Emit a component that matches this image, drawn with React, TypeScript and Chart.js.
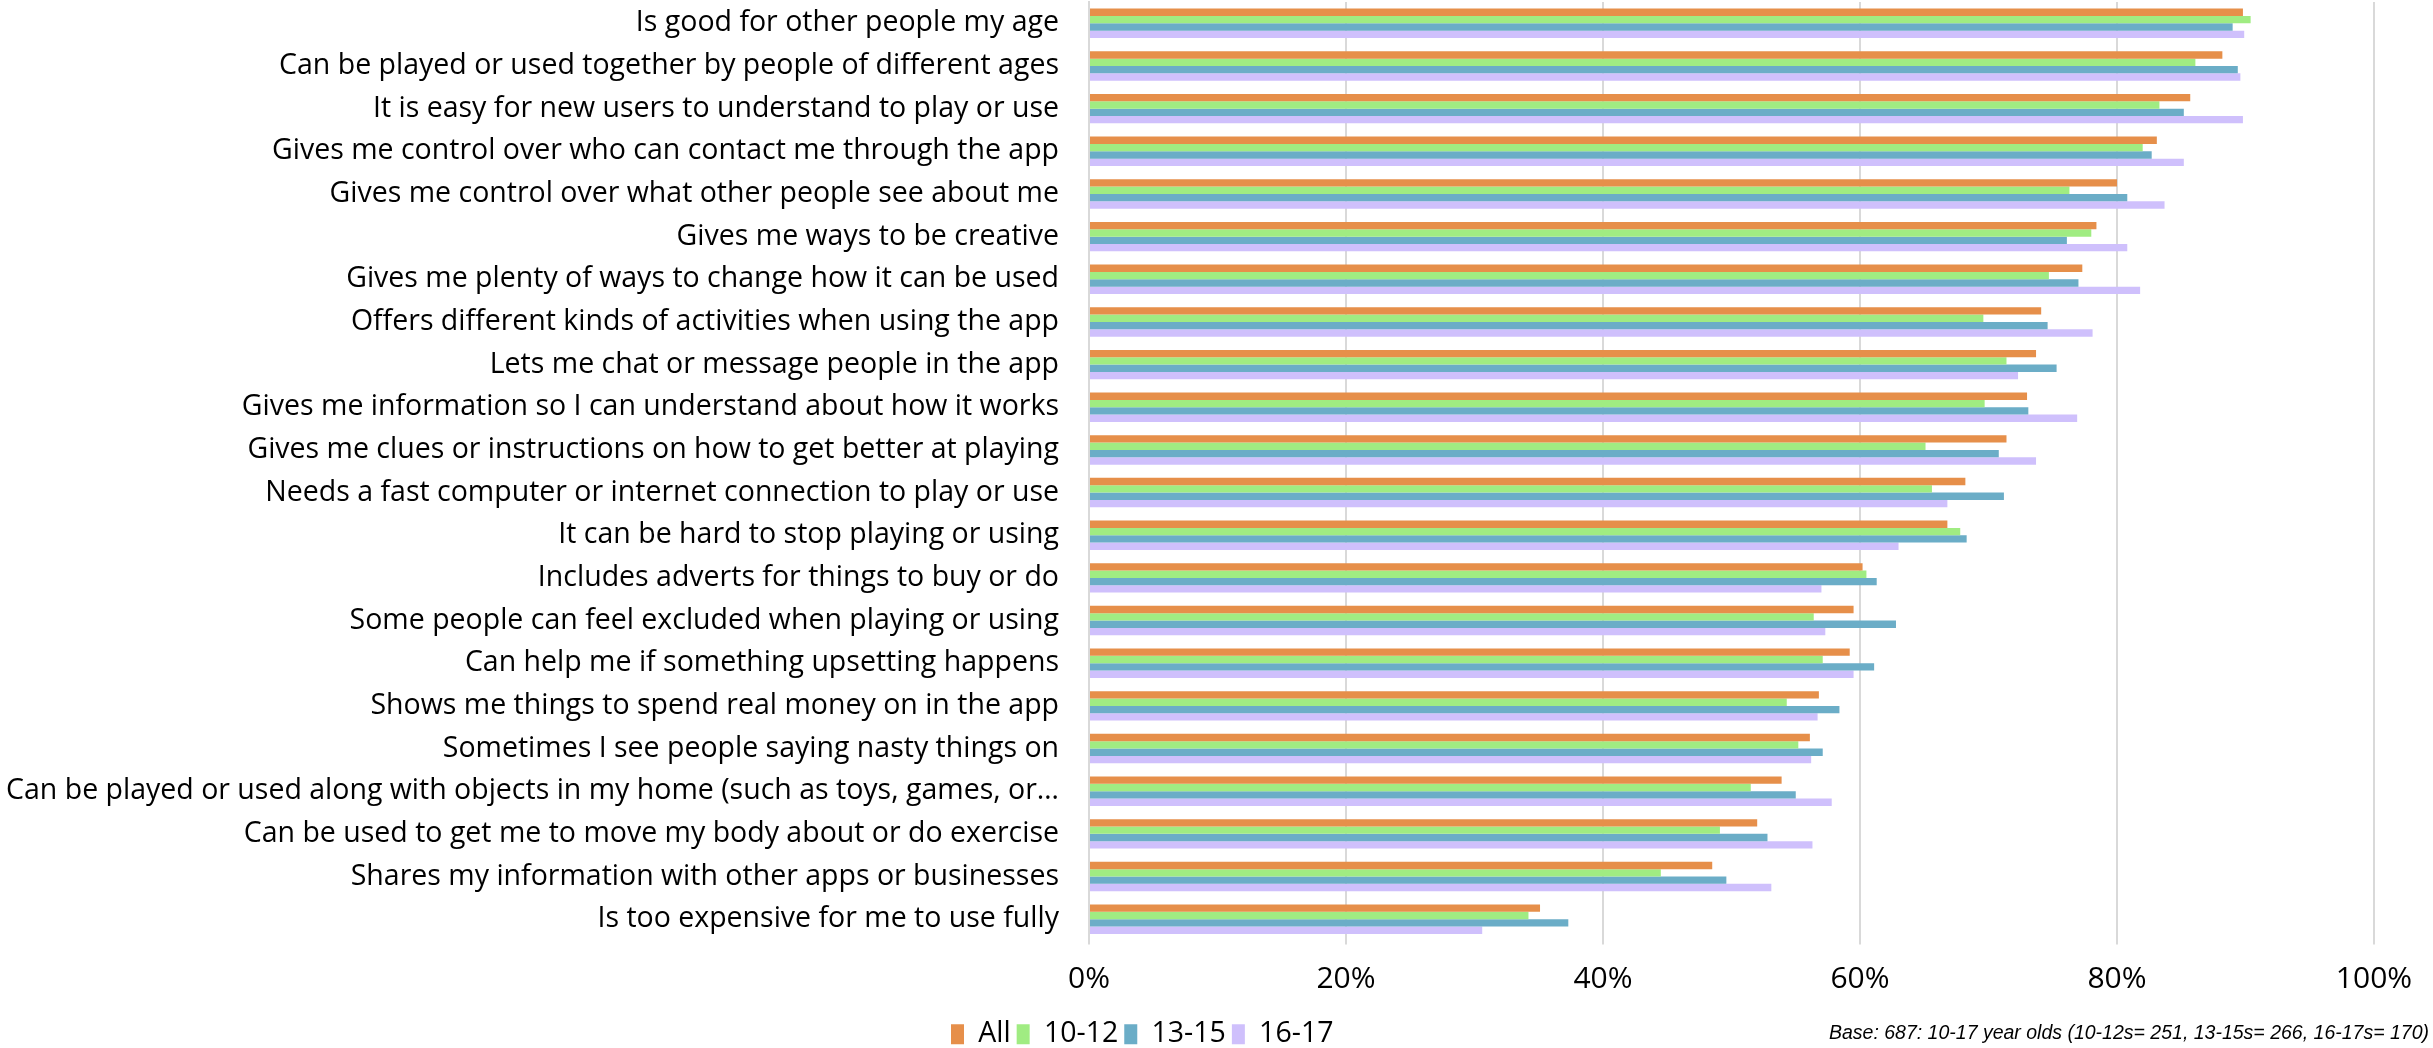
import React, { useEffect, useRef } from "react";
import { Chart, registerables } from "chart.js";

Chart.register(...registerables);

// Statements about the app, in ranked order
const categories = [
  "Is good for other people my age",
  "Can be played or used together by people of different ages",
  "It is easy for new users to understand to play or use",
  "Gives me control over who can contact me through the app",
  "Gives me control over what other people see about me",
  "Gives me ways to be creative",
  "Gives me plenty of ways to change how it can be used",
  "Offers different kinds of activities when using the app",
  "Lets me chat or message people in the app",
  "Gives me information so I can understand about how it works",
  "Gives me clues or instructions on how to get better at playing",
  "Needs a fast computer or internet connection to play or use",
  "It can be hard to stop playing or using",
  "Includes adverts for things to buy or do",
  "Some people can feel excluded when playing or using",
  "Can help me if something upsetting happens",
  "Shows me things to spend real money on in the app",
  "Sometimes I see people saying nasty things on",
  "Can be played or used along with objects in my home (such as toys, games, or…",
  "Can be used to get me to move my body about or do exercise",
  "Shares my information with other apps or businesses",
  "Is too expensive for me to use fully",
];

// Share agreeing (%), by age group
const valuesAll = [89.8, 88.2, 85.7, 83.1, 80.0, 78.4, 77.3, 74.1, 73.7, 73.0, 71.4, 68.2, 66.8, 60.2, 59.5, 59.2, 56.8, 56.1, 53.9, 52.0, 48.5, 35.1];
const values10to12 = [90.4, 86.1, 83.3, 82.0, 76.3, 78.0, 74.7, 69.6, 71.4, 69.7, 65.1, 65.6, 67.8, 60.5, 56.4, 57.1, 54.3, 55.2, 51.5, 49.1, 44.5, 34.2];
const values13to15 = [89.0, 89.4, 85.2, 82.7, 80.8, 76.1, 77.0, 74.6, 75.3, 73.1, 70.8, 71.2, 68.3, 61.3, 62.8, 61.1, 58.4, 57.1, 55.0, 52.8, 49.6, 37.3];
const values16to17 = [89.9, 89.6, 89.8, 85.2, 83.7, 80.8, 81.8, 78.1, 72.3, 76.9, 73.7, 66.8, 63.0, 57.0, 57.3, 59.5, 56.7, 56.2, 57.8, 56.3, 53.1, 30.6];

const seriesNames = ["All", "10-12", "13-15", "16-17"];
const seriesColors = ["#E68F4A", "#A0EC82", "#6BADC7", "#CFC0FC"];

// Percentage axis
const xTickValues = [0, 20, 40, 60, 80, 100];

const baseNote = "Base: 687: 10-17 year olds (10-12s= 251, 13-15s= 266, 16-17s= 170)";

const FONT = "'Open Sans', 'Liberation Sans', sans-serif";
const LEGEND_PADDING = 6;

// Puts the legend row under the left part of the axis
const legendPlacement = {
  id: "legendPlacement",
  afterLayout(chart: any) {
    const lg = chart.legend;
    if (!lg) return;
    const w = lg.right - lg.left;
    const h = lg.bottom - lg.top;
    lg.left = 951 - LEGEND_PADDING;
    lg.right = lg.left + w;
    lg.top = 1020 - LEGEND_PADDING;
    lg.bottom = lg.top + h;
  },
};

export default function App() {
  const canvasRef = useRef<HTMLCanvasElement | null>(null);

  useEffect(() => {
    const canvas = canvasRef.current;
    if (!canvas) return;
    const seriesValues = [valuesAll, values10to12, values13to15, values16to17];
    const chart = new Chart(canvas, {
      type: "bar",
      data: {
        labels: categories,
        datasets: seriesNames.map((name, i) => ({
          label: name,
          data: seriesValues[i],
          backgroundColor: seriesColors[i],
          borderWidth: 0,
          barPercentage: 1,
          categoryPercentage: 0.69,
        })),
      },
      options: {
        indexAxis: "y",
        responsive: false,
        animation: false,
        layout: { padding: { top: 2, right: 59, left: 0, bottom: 10 } },
        plugins: {
          legend: {
            display: true,
            position: "bottom",
            align: "start",
            labels: {
              boxWidth: 13,
              boxHeight: 20,
              padding: LEGEND_PADDING,
              color: "#000",
              font: { family: FONT, size: 28.5 },
            },
          },
          tooltip: { enabled: false },
        },
        scales: {
          x: {
            min: 0,
            max: 100,
            afterBuildTicks(scale: any) {
              scale.ticks = xTickValues.map((v) => ({ value: v }));
            },
            afterFit(scale: any) {
              scale.height = 53;
            },
            grid: {
              color: "#d9d9d9",
              lineWidth: 2,
              drawTicks: true,
              tickLength: 4,
            },
            border: { display: false },
            ticks: {
              padding: 17,
              color: "#000",
              font: { family: FONT, size: 30 },
              callback: (v: any) => `${v}%`,
            },
          },
          y: {
            afterFit(scale: any) {
              scale.width = 1089;
              scale.paddingTop = 0;
              scale.paddingBottom = 0;
            },
            grid: { display: false, drawTicks: false },
            border: { display: true, color: "#d9d9d9", width: 2 },
            ticks: {
              autoSkip: false,
              padding: 30,
              color: "#000",
              font: { family: FONT, size: 28.5 },
            },
          },
        },
      },
      plugins: [legendPlacement],
    });
    return () => chart.destroy();
  }, []);

  return (
    <div style={{ position: "absolute", left: 0, top: 0, width: 2433, height: 1048, background: "#fff", overflow: "hidden" }}>
      <canvas ref={canvasRef} width={2433} height={1048} style={{ display: "block" }} />
      <div
        style={{
          position: "absolute",
          right: 4,
          top: 1021,
          fontFamily: "'Liberation Sans', sans-serif",
          fontStyle: "italic",
          fontSize: 19.5,
          color: "#000",
          whiteSpace: "nowrap",
        }}
      >
        {baseNote}
      </div>
    </div>
  );
}
